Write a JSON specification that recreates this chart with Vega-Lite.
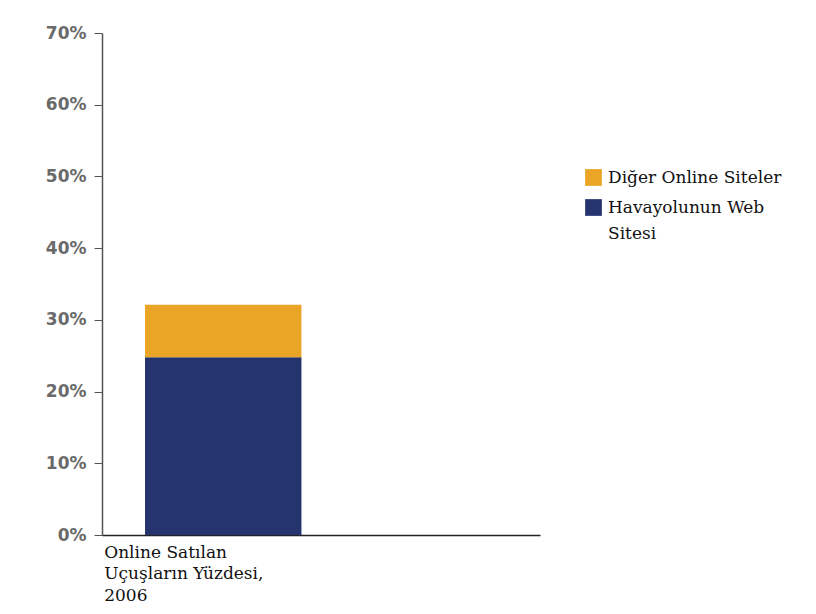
{
  "$schema": "https://vega.github.io/schema/vega-lite/v6.json",
  "width": 438,
  "height": 502,
  "autosize": {"type": "none"},
  "padding": {"left": 102, "top": 33, "right": 276, "bottom": 79},
  "background": "white",
  "data": {
    "values": [
      {"kategori": "Online Satılan Uçuşların Yüzdesi, 2006", "seri": "Havayolunun Web Sitesi", "oran": 0.248},
      {"kategori": "Online Satılan Uçuşların Yüzdesi, 2006", "seri": "Diğer Online Siteler", "oran": 0.073}
    ]
  },
  "mark": {"type": "bar"},
  "encoding": {
    "x": {
      "field": "kategori",
      "type": "nominal",
      "scale": {"domain": ["Online Satılan Uçuşların Yüzdesi, 2006", " "], "paddingInner": 0.2, "paddingOuter": 0.22},
      "axis": {
        "title": null,
        "labelAngle": 0,
        "ticks": false,
        "domainColor": "#222222",
        "domainWidth": 1.5,
        "labelAlign": "left",
        "labelBaseline": "top",
        "labelOffset": -119,
        "labelPadding": 9,
        "labelFont": "DejaVu Serif",
        "labelFontSize": 17,
        "labelColor": "#111111",
        "labelLineHeight": 21.5,
        "labelLimit": 0,
        "labelExpr": "datum.value == ' ' ? '' : ['Online Satılan', 'Uçuşların Yüzdesi,', '2006']"
      }
    },
    "y": {
      "field": "oran",
      "type": "quantitative",
      "stack": "zero",
      "scale": {"domain": [0, 0.7], "nice": false},
      "axis": {
        "title": null,
        "format": ".0%",
        "values": [0, 0.1, 0.2, 0.3, 0.4, 0.5, 0.6, 0.7],
        "grid": false,
        "domainColor": "#555555",
        "domainWidth": 1.5,
        "tickColor": "#555555",
        "tickSize": 8,
        "labelPadding": 8,
        "labelFont": "DejaVu Sans",
        "labelFontWeight": "bold",
        "labelFontSize": 17,
        "labelColor": "#6a6a6a"
      }
    },
    "color": {
      "field": "seri",
      "type": "nominal",
      "scale": {"domain": ["Diğer Online Siteler", "Havayolunun Web Sitesi"], "range": ["#EBA526", "#25346F"]},
      "legend": {
        "title": null,
        "orient": "none",
        "legendX": 483,
        "legendY": 136,
        "symbolType": "square",
        "symbolSize": 280,
        "symbolStrokeWidth": 0,
        "labelFont": "DejaVu Serif",
        "labelFontSize": 17,
        "labelColor": "#111111",
        "labelLimit": 0,
        "labelOffset": 6,
        "rowPadding": 12,
        "labelExpr": "datum.label == 'Havayolunun Web Sitesi' ? ['Havayolunun Web', 'Sitesi'] : datum.label",
        "encode": {"labels": {"update": {"lineHeight": {"value": 26}}}}
      }
    },
    "order": {"field": "seri", "sort": "descending"}
  },
  "config": {"view": {"stroke": null}}
}
